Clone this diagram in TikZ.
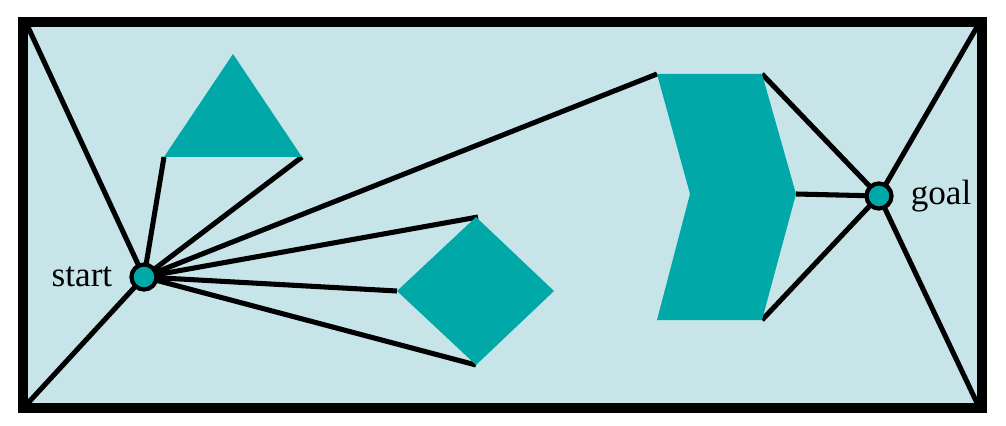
\documentclass[tikz,border=0pt]{standalone}
\usepackage{fontspec}
\setmainfont{Liberation Serif}
\usetikzlibrary{positioning}
\definecolor{free_space}{RGB}{199,229,233}
\definecolor{obstacle_teal}{RGB}{0,168,168}
\tikzstyle{end_node} = [
    circle, 
    draw=black, 
    fill=obstacle_teal, 
    line width=3pt, 
    inner sep=0pt, 
    minimum size=17.8pt
]
\tikzstyle{name_text} = [
    font=\fontsize{25}{30}\selectfont, 
    inner sep=0pt
]
\tikzstyle{edge} = [
    line width=3.6pt, 
    draw=black
]
\tikzstyle{obstacle} = [
    fill=obstacle_teal
]

\begin{document}
\begin{tikzpicture}[x=0.025cm, y=-0.025cm]
\useasboundingbox (0,0) rectangle (1006,426);
\draw [fill=free_space, line width=7pt] (23,22) rectangle (982,408);

% corners of the free space
\coordinate (corner_tl) at (28,27);
\coordinate (corner_tr) at (977,27);
\coordinate (corner_bl) at (28,403);
\coordinate (corner_br) at (977,403);

% triangle
\coordinate (tri_top) at (233,54);
\coordinate (tri_left) at (164,157);
\coordinate (tri_right) at (302,157);
% diamond
\coordinate (dia_top) at (478,217);
\coordinate (dia_right) at (554,291);
\coordinate (dia_bottom) at (476,365);
\coordinate (dia_left) at (397,291);
% chevron
\coordinate (chev_tl) at (657,74);
\coordinate (chev_tr) at (762,74);
\coordinate (chev_tip) at (796,194);
\coordinate (chev_br) at (762,320);
\coordinate (chev_bl) at (657,320);
\coordinate (chev_notch) at (690,194);

\coordinate (s) at (144,277);
\coordinate (g) at (879,196);

\draw [edge] (s) -- (corner_tl);
\draw [edge] (s) -- (corner_bl);
\draw [edge] (s) -- (tri_left);
\draw [edge] (s) -- (tri_right);
\draw [edge] (s) -- (chev_tl);
\draw [edge] (s) -- (dia_top);
\draw [edge] (s) -- (dia_left);
\draw [edge] (s) -- (dia_bottom);

\draw [edge] (g) -- (chev_tr);
\draw [edge] (g) -- (chev_tip);
\draw [edge] (g) -- (chev_br);
\draw [edge] (g) -- (corner_tr);
\draw [edge] (g) -- (corner_br);

\fill [obstacle] (tri_top) -- (tri_right) -- (tri_left) -- cycle;
\fill [obstacle] (476,217) -- (dia_right) -- (dia_bottom) -- (dia_left) -- cycle;
\fill [obstacle] (chev_tl) -- (chev_tr) -- (chev_tip) -- (chev_br) -- (chev_bl) -- (chev_notch) -- cycle;

\node [end_node] (start) at (s) {};
\node [end_node] (goal) at (g) {};
\node [name_text, left=12pt of start] (start_label) {start};
\node [name_text, right=12pt of goal] (goal_label) {goal};
\end{tikzpicture}
\end{document}
